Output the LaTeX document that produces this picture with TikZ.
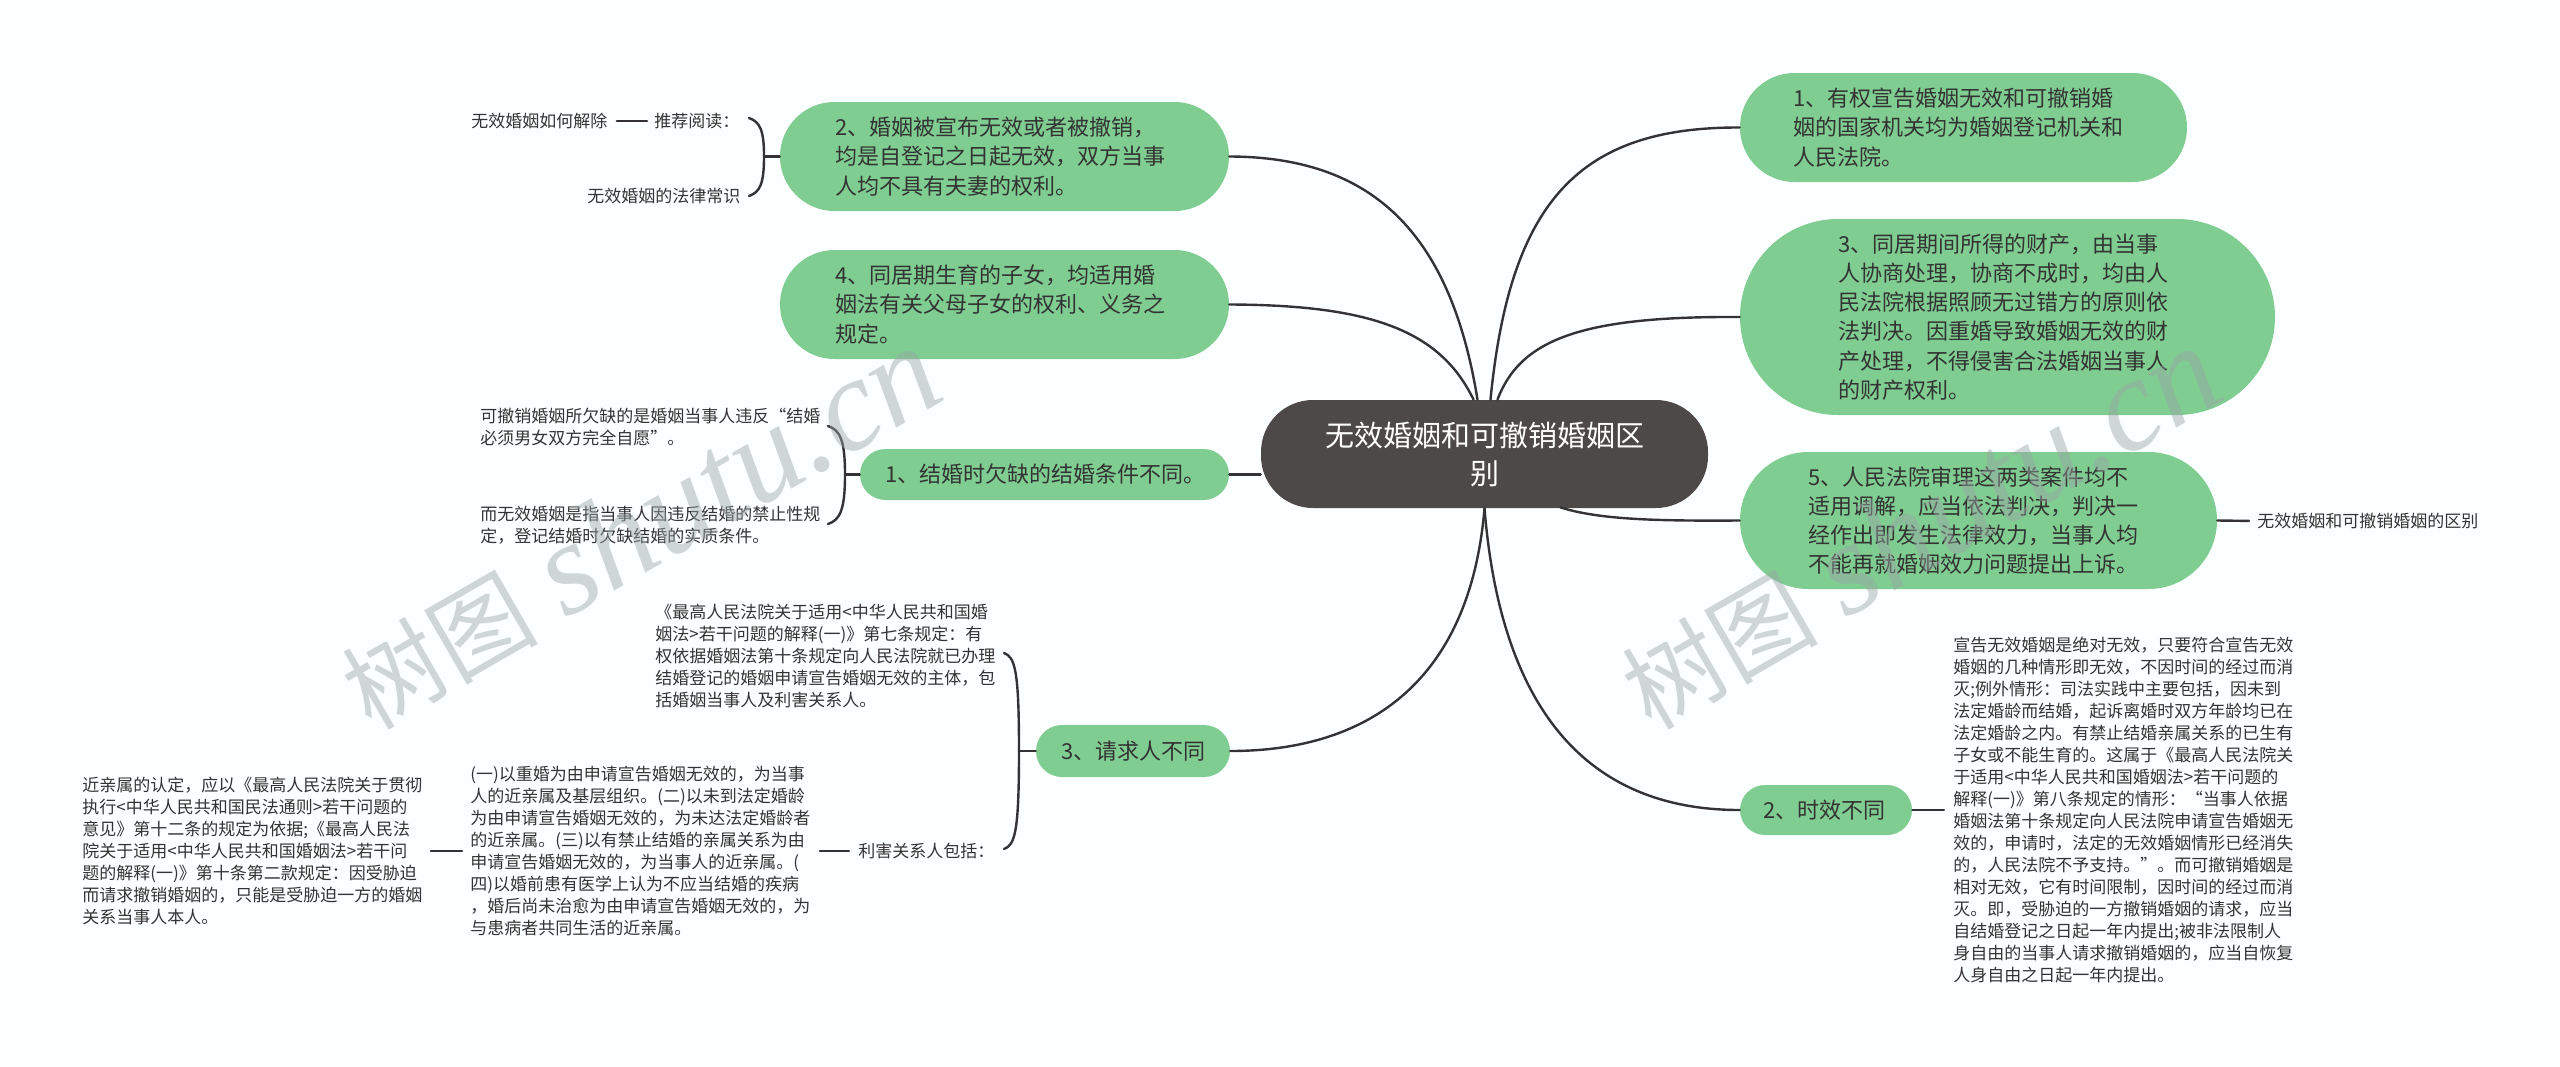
\documentclass[tikz,border=0pt]{standalone}
\usepackage{fontspec}
\setmainfont{Noto Sans CJK SC}
\newfontfamily\wmlatin{Liberation Serif}
\definecolor{bgc}{HTML}{FCFFFF}
\definecolor{leaf}{HTML}{80CD92}
\definecolor{hubc}{HTML}{4D4948}
\definecolor{ink}{HTML}{333333}
\definecolor{wm}{HTML}{9AA5A5}
\newcommand{\wmtext}{{\fontsize{49pt}{60pt}\selectfont 树图}\hspace{14pt}{\fontsize{66pt}{60pt}\selectfont\wmlatin\itshape shutu.cn}}
\tikzset{
  x=0.5pt,y=-0.5pt,
  link/.style={draw=ink,line width=1.2pt,line cap=round},
  pillbox/.style n args={3}{fill=leaf,draw=none,minimum width=#1*0.5pt,minimum height=#2*0.5pt,rounded corners=#2*0.25pt,inner xsep=0pt,inner ysep=0pt,text width=#3,align=left,anchor=center,text=ink,font=\fontsize{11pt}{14.6pt}\selectfont},
  smalltxt/.style={anchor=west,align=left,inner sep=0pt,text=ink,font=\fontsize{8.5pt}{11pt}\selectfont},
  hubbox/.style={fill=hubc,draw=none,minimum width=223.5pt,minimum height=54pt,rounded corners=26pt,inner sep=0pt,align=center,text=white,anchor=center,font=\fontsize{14.5pt}{19pt}\selectfont},
  watermark/.style={inner sep=0pt,text=wm,opacity=0.45,rotate=30,anchor=center},
}
\begin{document}
\begin{tikzpicture}
\path[use as bounding box,fill=bgc] (0,0) rectangle (2560,1066);
% main nodes
\node[hubbox] (hub) at (1484.5,454) {无效婚姻和可撤销婚姻区\\别};
\node[pillbox={449}{109}{169.5pt}] (n2) at (1004.5,156.5) {2、婚姻被宣布无效或者被撤销，\\均是自登记之日起无效，双方当事\\人均不具有夫妻的权利。};
\node[pillbox={449}{109}{169.5pt}] (n4) at (1004.5,304.5) {4、同居期生育的子女，均适用婚\\姻法有关父母子女的权利、义务之\\规定。};
\node[pillbox={369}{51}{159.5pt}] (n1) at (1044.5,474.5) {1、结婚时欠缺的结婚条件不同。};
\node[pillbox={194}{52}{72pt}] (n3) at (1133,751) {3、请求人不同};
\node[pillbox={447}{109}{170.5pt}] (r1) at (1963.5,127.5) {1、有权宣告婚姻无效和可撤销婚\\姻的国家机关均为婚姻登记机关和\\人民法院。};
\node[pillbox={535}{196}{169.5pt}] (r3) at (2007.5,317) {3、同居期间所得的财产，由当事\\人协商处理，协商不成时，均由人\\民法院根据照顾无过错方的原则依\\法判决。因重婚导致婚姻无效的财\\产处理，不得侵害合法婚姻当事人\\的财产权利。};
\node[pillbox={477}{137}{170.5pt}] (r5) at (1978.5,520.5) {5、人民法院审理这两类案件均不\\适用调解，应当依法判决，判决一\\经作出即发生法律效力，当事人均\\不能再就婚姻效力问题提出上诉。};
\node[pillbox={172}{50}{63pt}] (r2) at (1826,810) {2、时效不同};
% hub connectors
\coordinate (hubA) at ([xshift=6.5pt]hub.north);
\coordinate (hubB) at ([xshift=3pt]hub.north);
\coordinate (hubC) at ([xshift=-3.5pt]hub.north);
\coordinate (hubD) at ([xshift=-5.5pt]hub.north);
\coordinate (hubE) at ([xshift=38pt,yshift=0.5pt]hub.south);
\coordinate (hubF) at (hub.south);
\draw[link] (hubB) .. controls (1510,200) and (1580,127) .. (r1.west);
\draw[link] (hubA) .. controls (1520,340) and (1580,316) .. (r3.west);
\draw[link] (hubE) .. controls (1600,520) and (1660,521) .. (r5.west);
\draw[link] (hubC) .. controls (1450,230) and (1370,157) .. (n2.east);
\draw[link] (hubD) .. controls (1440,330) and (1370,305) .. (n4.east);
\draw[link] (n1.east) -- (n1.east -| hub.west);
\draw[link] (hubF) .. controls (1470,680) and (1370,751) .. (n3.east);
\draw[link] (hubF) .. controls (1500,700) and (1580,810) .. (r2.west);
% leaf texts
\node[smalltxt] (s1) at (471,121) {无效婚姻如何解除};
\node[smalltxt] (s2) at (654,121) {推荐阅读：};
\node[smalltxt] (s3) at (587,196) {无效婚姻的法律常识};
\node[smalltxt] (s4) at (480,427) {可撤销婚姻所欠缺的是婚姻当事人违反“结婚\\必须男女双方完全自愿”。};
\node[smalltxt] (s5) at (480,525) {而无效婚姻是指当事人因违反结婚的禁止性规\\定，登记结婚时欠缺结婚的实质条件。};
\node[smalltxt] (s6) at (655,656) {《最高人民法院关于适用<中华人民共和国婚\\姻法>若干问题的解释(一)》第七条规定：有\\权依据婚姻法第十条规定向人民法院就已办理\\结婚登记的婚姻申请宣告婚姻无效的主体，包\\括婚姻当事人及利害关系人。};
\node[smalltxt] (s7) at (858,851) {利害关系人包括：};
\node[smalltxt] (s8) at (470,851) {(一)以重婚为由申请宣告婚姻无效的，为当事\\人的近亲属及基层组织。(二)以未到法定婚龄\\为由申请宣告婚姻无效的，为未达法定婚龄者\\的近亲属。(三)以有禁止结婚的亲属关系为由\\申请宣告婚姻无效的，为当事人的近亲属。(\\四)以婚前患有医学上认为不应当结婚的疾病\\，婚后尚未治愈为由申请宣告婚姻无效的，为\\与患病者共同生活的近亲属。};
\node[smalltxt] (s9) at (82,851) {近亲属的认定，应以《最高人民法院关于贯彻\\执行<中华人民共和国民法通则>若干问题的\\意见》第十二条的规定为依据;《最高人民法\\院关于适用<中华人民共和国婚姻法>若干问\\题的解释(一)》第十条第二款规定：因受胁迫\\而请求撤销婚姻的，只能是受胁迫一方的婚姻\\关系当事人本人。};
\node[smalltxt] (s10) at (2257,521) {无效婚姻和可撤销婚姻的区别};
\node[smalltxt] (s11) at (1953,810) {宣告无效婚姻是绝对无效，只要符合宣告无效\\婚姻的几种情形即无效，不因时间的经过而消\\灭;例外情形：司法实践中主要包括，因未到\\法定婚龄而结婚，起诉离婚时双方年龄均已在\\法定婚龄之内。有禁止结婚亲属关系的已生有\\子女或不能生育的。这属于《最高人民法院关\\于适用<中华人民共和国婚姻法>若干问题的\\解释(一)》第八条规定的情形：“当事人依据\\婚姻法第十条规定向人民法院申请宣告婚姻无\\效的，申请时，法定的无效婚姻情形已经消失\\的，人民法院不予支持。”。而可撤销婚姻是\\相对无效，它有时间限制，因时间的经过而消\\灭。即，受胁迫的一方撤销婚姻的请求，应当\\自结婚登记之日起一年内提出;被非法限制人\\身自由的当事人请求撤销婚姻的，应当自恢复\\人身自由之日起一年内提出。};
% leaf connectors
\draw[link,shorten <=4.5pt,shorten >=3.5pt] (s1.east) -- (s2.west);
\draw[link,shorten <=4.5pt,shorten >=4.5pt] (s7.west) -- (s8.east);
\draw[link,shorten <=4pt,shorten >=4pt] (s8.west) -- (s9.east);
\draw[link,shorten >=4pt] (r5.east) -- (s10.west);
\draw[link,shorten >=4.5pt] (r2.east) -- (s11.west);
% brackets
\coordinate (b2t) at (749,118); \coordinate (b2b) at (749,196); \coordinate (b2s) at (764,156.5);
\draw[link] (b2t) .. controls (760,122) and (764,130) .. (b2s) .. controls (764,184) and (760,192) .. (b2b);
\draw[link] (b2s) -- (n2.west);
\coordinate (b1t) at (828,426); \coordinate (b1b) at (828,524); \coordinate (b1s) at (845,474.5);
\draw[link] (b1t) .. controls (840,430) and (845,440) .. (b1s) .. controls (845,510) and (840,520) .. (b1b);
\draw[link] (b1s) -- (n1.west);
\coordinate (b3t) at (1004,653); \coordinate (b3b) at (1004,849); \coordinate (b3s) at (1019,751);
\draw[link] (b3t) .. controls (1015,657) and (1019,670) .. (b3s) .. controls (1019,832) and (1015,845) .. (b3b);
\draw[link] (b3s) -- (n3.west);
% watermarks
\node[watermark] (w1) at (640,528) {\wmtext};
\node[watermark] (w2) at (1920,528) {\wmtext};
\end{tikzpicture}
\end{document}
